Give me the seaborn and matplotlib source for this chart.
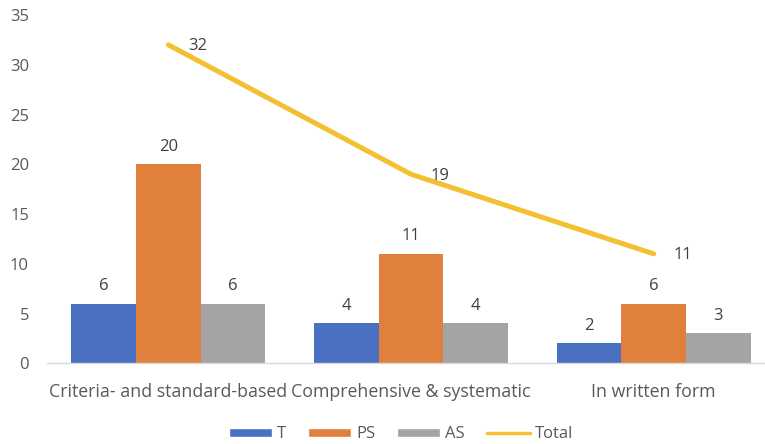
import numpy as np
import pandas as pd
import matplotlib
matplotlib.use("Agg")
import matplotlib.pyplot as plt
import seaborn as sns
from matplotlib.patches import Patch
from matplotlib.lines import Line2D

categories = ["Criteria- and standard-based", "Comprehensive & systematic", "In written form"]
series_names = ["T", "PS", "AS"]
t_values = [6, 4, 2]
ps_values = [20, 11, 6]
as_values = [6, 4, 3]
total_values = [32, 19, 11]
yticks = [0, 5, 10, 15, 20, 25, 30, 35]

colors = {"T": "#4A70C2", "PS": "#E17F3D", "AS": "#A4A4A4"}
line_color = "#F2C031"
label_color = "#404040"
tick_color = "#595959"

sns.set_theme(style="white")
plt.rcParams["font.family"] = ["Open Sans", "DejaVu Sans"]

df = pd.DataFrame({
    "category": categories * 3,
    "series": sum([[s] * 3 for s in series_names], []),
    "value": t_values + ps_values + as_values,
})

fig = plt.figure(figsize=(7.65, 4.44), dpi=100)
ax = fig.add_axes([47 / 765, 80.7 / 444, 728 / 765, 348.3 / 444])

sns.barplot(data=df, x="category", y="value", hue="series", order=categories,
            hue_order=series_names, palette=colors, width=0.8, saturation=1,
            ax=ax, legend=False, edgecolor="none")

for cont in ax.containers:
    ax.bar_label(cont, padding=7, fontsize=12, color=label_color)

sns.lineplot(x=np.arange(len(categories)), y=total_values, color=line_color,
             linewidth=3.6, ax=ax, solid_capstyle="round", solid_joinstyle="round")
for i, v in enumerate(total_values):
    ax.annotate(str(v), (i, v), xytext=(14, -1), textcoords="offset points",
                ha="left", va="center", fontsize=12, color=label_color)

ax.set_xlim(-0.5, 2.5)
ax.set_ylim(0, 35)
ax.set_yticks(yticks)
ax.set_xlabel("")
ax.set_ylabel("")
for s in ["top", "right", "left"]:
    ax.spines[s].set_visible(False)
ax.spines["bottom"].set_color("#D9D9D9")
ax.spines["bottom"].set_linewidth(1.0)
ax.tick_params(axis="both", length=0, labelsize=12, colors=tick_color)
ax.tick_params(axis="x", labelsize=12.8, pad=14)
ax.tick_params(axis="y", pad=13)

handles = [Patch(facecolor=colors[s], label=s) for s in series_names]
handles.append(Line2D([0], [0], color=line_color, linewidth=2.5, label="Total"))
fig.legend(handles=handles, loc="center", bbox_to_anchor=(401 / 765, 10 / 444),
           ncol=4, frameon=False, fontsize=12, handlelength=2.6, handleheight=0.45,
           handletextpad=0.3, columnspacing=1.3, labelcolor=tick_color,
           borderpad=0.2)

fig.savefig("out.png", dpi=100)
